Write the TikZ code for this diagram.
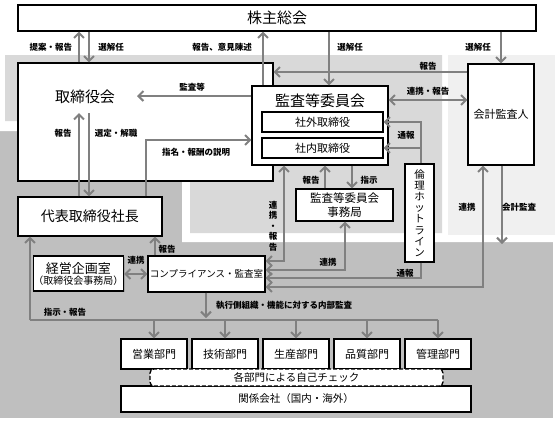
\documentclass[tikz,border=0pt]{standalone}
\usepackage{fontspec}
\setmainfont{Noto Sans CJK JP}
\usetikzlibrary{arrows.meta,shadows}
\definecolor{bgdark}{gray}{0.75}
\definecolor{bglight}{gray}{0.85}
\definecolor{bgpale}{gray}{0.94}
\definecolor{arrgray}{gray}{0.5}
\begin{document}
\begin{tikzpicture}[x=1pt,y=-1pt,
		box/.style={draw=black,line width=1.1pt,fill=white,inner sep=0pt,
			drop shadow={shadow xshift=1pt,shadow yshift=-1pt,opacity=.45}},
		dept/.style={box,minimum width=66pt,minimum height=30pt,font=\fontsize{11}{13}\selectfont},
		arr/.style={draw=arrgray,line width=2pt,-{Straight Barb[length=5pt,width=10pt]}},
		darr/.style={arr,{Straight Barb[length=5pt,width=10pt]}-{Straight Barb[length=5pt,width=10pt]}},
		wire/.style={draw=arrgray,line width=2pt},
		lbl/.style={inner sep=0pt,font=\bfseries\fontsize{8.5}{10.5}\selectfont}]
	\useasboundingbox (0,0) rectangle (555,421);
	% background areas
	\fill[bgdark] (0,131) rectangle (553,418);
	\fill[white] (0,50) -- (555,50) -- (555,242) -- (182,242) -- (182,131) -- (0,131) -- cycle;
	\fill[bglight] (5,55) -- (442,55) -- (442,233) -- (190,233) -- (190,121) -- (5,121) -- cycle;
	\fill[bgpale] (448,55) rectangle (555,235);
	% boxes
	\node[box,minimum width=518pt,minimum height=26pt,font=\fontsize{15}{17}\selectfont] (kabunushi) at (277,18) {株主総会};
	\node[box,minimum width=255pt,minimum height=118pt] (torishimari) at (145.5,122) {};
	\node[inner sep=0pt,font=\fontsize{15}{17}\selectfont] (torishimari-t) at (85,97) {取締役会};
	\node[box,minimum width=136pt,minimum height=79pt] (kansa) at (320,125.5) {};
	\node[inner sep=0pt,font=\fontsize{15}{17}\selectfont] (kansa-t) at (320,101) {監査等委員会};
	\node[box,minimum width=121pt,minimum height=20pt,font=\fontsize{11}{13}\selectfont] (shagai) at (322.5,122) {社外取締役};
	\node[box,minimum width=121pt,minimum height=20pt,font=\fontsize{11}{13}\selectfont] (shanai) at (322.5,148) {社内取締役};
	\node[box,minimum width=66pt,minimum height=101pt,font=\fontsize{11}{13}\selectfont] (kaikei) at (501,114.5) {会計監査人};
	\node[box,minimum width=144pt,minimum height=39pt,font=\fontsize{14}{16}\selectfont] (daihyo) at (90,216.5) {代表取締役社長};
	\node[box,minimum width=89pt,minimum height=35pt,align=center] (keiei) at (78.5,273.5)
		{{\fontsize{13}{15}\selectfont 経営企画室}\\[-1pt]{\fontsize{10}{12}\selectfont （取締役会事務局）}};
	\node[box,minimum width=117pt,minimum height=36pt,font=\fontsize{9.5}{12}\selectfont] (compliance) at (206.5,274) {コンプライアンス・監査室};
	\node[box,minimum width=97pt,minimum height=32pt,align=center,font=\fontsize{11.5}{13.5}\selectfont] (jimukyoku) at (344.5,205) {監査等委員会\\事務局};
	\node[box,minimum width=29pt,minimum height=98pt,align=center,font=\fontsize{10.5}{11.2}\selectfont] (hotline) at (419.5,213) {倫\\理\\ホ\\ッ\\ト\\ラ\\イ\\ン};
	\node[dept] (eigyo) at (154,354) {営業部門};
	\node[dept] (gijutsu) at (225,354) {技術部門};
	\node[dept] (seisan) at (296,354) {生産部門};
	\node[dept] (hinshitsu) at (367,354) {品質部門};
	\node[dept] (kanri) at (438,354) {管理部門};
	\node[box,minimum width=350pt,minimum height=26pt,font=\fontsize{10.5}{12}\selectfont] (kankei) at (296,399) {関係会社（国内・海外）};
	\node[draw=black,line width=1.3pt,dash pattern=on 4pt off 2pt,rounded corners=4pt,fill=white,
		inner sep=0pt,minimum width=293pt,minimum height=17pt,font=\fontsize{10.5}{12}\selectfont] (check) at (296.5,377.5) {各部門による自己チェック};
	% named free ends
	\coordinate (kansato) at (137,96);
	\coordinate (torishimari-in-l) at (79,113);
	\coordinate (torishimari-in-r) at (89,113);
	\coordinate (kaikeikansa) at (502,244);
	\coordinate (bus-l) at (30,320);
	\coordinate (bus-r) at (438,320);
	% connectors
	\draw[arr] (torishimari.north -| 79,0) -- (kabunushi.south -| 79,0);
	\draw[arr] (kabunushi.south -| 89,0) -- (torishimari.north -| 89,0);
	\draw[arr] (kansa.north -| 263,0) -- (kabunushi.south -| 263,0);
	\draw[arr] (kabunushi.south -| 329,0) -- (kansa.north -| 329,0);
	\draw[arr] (kabunushi.south -| 501,0) -- (kaikei.north -| 501,0);
	\draw[arr] (kaikei.west |- 0,72) -- (torishimari.east |- 0,72);
	\draw[darr] (kansa.east |- 0,100) -- (kaikei.west |- 0,100);
	\draw[arr] (kansa.west |- kansato) -- (kansato);
	\draw[arr] (daihyo.north -| torishimari-in-l) -- (torishimari-in-l);
	\draw[arr] (torishimari-in-r) -- (daihyo.north -| torishimari-in-r);
	\draw[arr] (daihyo.north -| 146,0) -- (146,140) -- (kansa.west |- 0,140);
	\draw[arr] (hotline.north -| 421,0) -- (421,122) -- (shagai.east);
	\draw[arr] (421,148) -- (shanai.east);
	\draw[arr] (jimukyoku.north -| 325,0) -- (kansa.south -| 325,0);
	\draw[arr] (kansa.south -| 352,0) -- (jimukyoku.north -| 352,0);
	\draw[darr] (kansa.south -| 284,0) -- (284,261) -- (compliance.east |- 0,261);
	\draw[darr] (jimukyoku.south -| 345,0) -- (345,270) -- (compliance.east |- 0,270);
	\draw[arr] (hotline.south -| 421,0) -- (421,278) -- (compliance.east |- 0,278);
	\draw[darr] (kaikei.south -| 483,0) -- (483,287) -- (compliance.east |- 0,287);
	\draw[arr] (kaikei.south -| kaikeikansa) -- (kaikeikansa);
	\draw[darr] (keiei.east |- 0,274) -- (compliance.west |- 0,274);
	\draw[arr] (compliance.north -| 155,0) -- (daihyo.south -| 155,0);
	\draw[wire] (bus-l) -- (bus-r);
	\draw[arr] (bus-l) -- (daihyo.south -| bus-l);
	\draw[arr] (compliance.south -| 206,0) -- (206,318);
	\foreach \d in {eigyo,gijutsu,seisan,hinshitsu,kanri}
		\draw[arr] (\d.north |- bus-l) -- (\d.north);
	% labels
	\node[lbl] at (51,47) {提案・報告};
	\node[lbl] at (111,47) {選解任};
	\node[lbl] at (222,47) {報告、意見陳述};
	\node[lbl] at (350,47) {選解任};
	\node[lbl] at (478,47) {選解任};
	\node[lbl] at (428,66) {報告};
	\node[lbl] at (192,87) {監査等};
	\node[lbl] at (428,91) {連携・報告};
	\node[lbl] at (63,133) {報告};
	\node[lbl] at (116,133) {選定・解職};
	\node[lbl] at (196,152) {指名・報酬の説明};
	\node[lbl] at (406,135) {通報};
	\node[lbl] at (311,180) {報告};
	\node[lbl] at (369,180) {指示};
	\node[lbl,align=center] at (273,226) {連\\携\\・\\報\\告};
	\node[lbl] at (467,207) {連携};
	\node[lbl] at (519,207) {会計監査};
	\node[lbl] at (136,260) {連携};
	\node[lbl] at (167,249) {報告};
	\node[lbl] at (328,262) {連携};
	\node[lbl] at (405,273) {通報};
	\node[lbl] at (65,312) {指示・報告};
	\node[lbl] at (284,305) {執行側組織・機能に対する内部監査};
\end{tikzpicture}
\end{document}
